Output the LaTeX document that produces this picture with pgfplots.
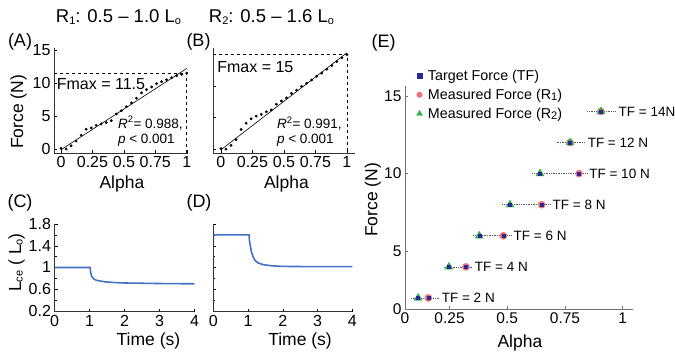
\documentclass[border=0pt]{standalone}
\usepackage{fontspec}
\setmainfont{Liberation Sans}
\usepackage{pgfplots}
\pgfplotsset{compat=1.18}
\definecolor{lineblue}{RGB}{68,114,196}
\definecolor{tfblue}{RGB}{40,40,150}
\definecolor{r1red}{RGB}{240,115,115}
\definecolor{r2green}{RGB}{45,180,70}
\newcommand{\fs}[1]{\fontsize{#1}{#1}\selectfont}
\newcommand{\sub}[1]{\raisebox{-1.5pt}{\fs{11}#1}}
\pgfplotsset{
  panel/.style={scale only axis, anchor=south west,
    axis x line*=bottom, axis y line*=left,
    tick align=inside, major tick length=3pt, minor tick length=2pt,
    tick style={black, thin}, axis line style={black!80, line width=0.8pt},
    ticklabel style={font=\fs{16}},
    /pgf/number format/assume math mode=true,
    label style={font=\fs{17.5}}, clip=false},
}
\begin{document}
\begin{tikzpicture}
\useasboundingbox (0,0) rectangle (675pt,358pt);
% titles and panel labels
\node[font=\fs{18.5}] at (118.5pt,341pt) {R\sub{1}: 0.5 – 1.0 L\sub{o}};
\node[font=\fs{18.5}] at (271.5pt,341pt) {R\sub{2}: 0.5 – 1.6 L\sub{o}};
\node[font=\fs{18}] at (20pt,316pt) {(A)};
\node[font=\fs{18}] at (198.5pt,316pt) {(B)};
\node[font=\fs{18}] at (20pt,155.5pt) {(C)};
\node[font=\fs{18}] at (199pt,155pt) {(D)};
\node[font=\fs{18}] at (383.5pt,315.5pt) {(E)};

% Panel A
\begin{axis}[panel, at={(54pt,205pt)}, width=134pt, height=105.3pt,
  xmin=-0.056, xmax=1.01, ymin=-0.6, ymax=15.35,
  xtick={0,0.25,0.5,0.75,1}, xticklabels={0,0.25,0.5,0.75,1},
  ytick={0,5,10,15},
  xlabel={Alpha}, ylabel={Force (N)},
  xlabel style={at={(axis description cs:0.507,-0.294)}, anchor=center},
  ylabel style={at={(axis description cs:-0.265,0.39)}, anchor=center}]
\addplot[black, dashed, line width=0.6pt] coordinates {(-0.056,11.5) (1,11.5) (1,-0.6)};
\addplot[black, line width=0.6pt] coordinates {(0,-0.1) (1,12.2)};
\addplot[only marks, mark=*, mark size=1.2pt, black] table {
x y
0 0.1
0.04 0.0
0.08 0.5
0.12 1.2
0.16 2.1
0.20 3.0
0.24 3.2
0.28 3.6
0.32 3.8
0.36 4.0
0.40 4.3
0.44 5.3
0.48 5.8
0.52 6.4
0.56 7.0
0.60 7.7
0.64 8.5
0.68 9.0
0.72 9.4
0.76 9.9
0.80 10.2
0.84 10.5
0.88 10.8
0.92 11.1
0.96 11.3
1.00 11.5
};
\node[anchor=west, font=\fs{16}, inner sep=0pt] at (axis cs:-0.035,9.9) {Fmax = 11.5};
\node[anchor=west, font=\fs{13.5}, inner sep=0pt] at (axis cs:0.452,3.94) {\textit{R}\textsuperscript{2}= 0.988,};
\node[anchor=west, font=\fs{13.5}, inner sep=0pt] at (axis cs:0.452,1.36) {\textit{p} < 0.001};
\end{axis}

% Panel B
\begin{axis}[panel, at={(213pt,205pt)}, width=141.5pt, height=105.3pt,
  xmin=-0.063, xmax=1.06, ymin=-0.6, ymax=16.0,
  xtick={0,0.25,0.5,0.75,1}, xticklabels={0,0.25,0.5,0.75,1},
  ytick={0,5,10,15}, yticklabels={},
  xlabel={Alpha},
  xlabel style={at={(axis description cs:0.519,-0.294)}, anchor=center}]
\addplot[black, dashed, line width=0.6pt] coordinates {(-0.063,15) (1,15) (1,-0.6)};
\addplot[black, line width=0.6pt] coordinates {(0,-0.1) (1,15.2)};
\addplot[only marks, mark=*, mark size=1.2pt, black] table {
x y
0 0.1
0.04 0.0
0.08 0.6
0.12 1.5
0.16 3.1
0.20 4.1
0.24 4.8
0.28 5.2
0.32 5.5
0.36 5.9
0.40 6.2
0.44 7.1
0.48 7.6
0.52 8.1
0.56 8.8
0.60 9.3
0.64 9.9
0.68 10.4
0.72 10.9
0.76 11.5
0.80 12.0
0.84 12.6
0.88 13.2
0.92 13.8
0.96 14.4
1.00 14.9
};
\node[anchor=west, font=\fs{16}, inner sep=0pt] at (axis cs:-0.03,13.0) {Fmax = 15};
\node[anchor=west, font=\fs{13.5}, inner sep=0pt] at (axis cs:0.444,4.06) {\textit{R}\textsuperscript{2}= 0.991,};
\node[anchor=west, font=\fs{13.5}, inner sep=0pt] at (axis cs:0.444,1.4) {\textit{p} < 0.001};
\end{axis}

% Panel C
\begin{axis}[panel, at={(54.5pt,46.3pt)}, width=140pt, height=87.7pt,
  xmin=0, xmax=4, ymin=0.187, ymax=1.8,
  xtick={0,1,2,3,4}, ytick={0.2,0.6,1,1.4,1.8}, yticklabels={0.2,0.6,1,1.4,1.8},
  minor ytick={0.4,0.8,1.2,1.6},
  xlabel={Time (s)}, ylabel={L\sub{ce} ( L\sub{o})},
  xlabel style={at={(axis description cs:0.671,-0.334)}, anchor=center},
  ylabel style={at={(axis description cs:-0.271,0.561)}, anchor=center}]
\addplot[lineblue, line width=1.6pt] coordinates {
(0,1.0) (1.02,1.0) (1.03,0.93) (1.05,0.86) (1.08,0.82) (1.12,0.79) (1.2,0.765)
(1.35,0.745) (1.5,0.733) (1.75,0.722) (2,0.715) (2.5,0.71) (3,0.705) (4,0.70)};
\end{axis}

% Panel D
\begin{axis}[panel, at={(213.3pt,46.3pt)}, width=139pt, height=87.7pt,
  xmin=0, xmax=4, ymin=0.187, ymax=1.8,
  xtick={0,1,2,3,4}, ytick={0.2,0.6,1,1.4,1.8}, yticklabels={},
  minor ytick={0.4,0.8,1.2,1.6},
  xlabel={Time (s)},
  xlabel style={at={(axis description cs:0.624,-0.334)}, anchor=center}]
\addplot[lineblue, line width=1.6pt] coordinates {
(0,1.6) (1.03,1.6) (1.04,1.5) (1.07,1.38) (1.1,1.28) (1.15,1.19) (1.2,1.13)
(1.3,1.08) (1.45,1.05) (1.7,1.03) (2,1.02) (3,1.015) (4,1.015)};
\end{axis}

% Panel E
\begin{axis}[panel, at={(405pt,49pt)}, width=227.6pt, height=223pt,
  xmin=0.057, xmax=1.043, ymin=1.29, ymax=15.64,
  axis line style={black!55, line width=0.8pt},
  tick style={black!55, thin},
  ticklabel style={font=\fs{15.5}},
  xtick={0.057,0.25,0.5,0.75,1}, xticklabels={0,0.25,0.5,0.75,1},
  ytick={1.29,5,10,15}, yticklabels={0,5,10,15},
  xlabel={Alpha}, ylabel={Force (N)},
  xlabel style={at={(axis description cs:0.505,-0.152)}, anchor=center},
  ylabel style={at={(axis description cs:-0.141,0.489)}, anchor=center},
  legend style={at={(axis description cs:0.05,1.085)}, anchor=north west,
    draw=none, fill=none, font=\fs{14.3}, row sep=2.2pt, inner sep=0pt,
    column sep=3pt, nodes={inner sep=2.5pt}},
  legend cell align=left]
\addlegendimage{only marks, mark=square*, mark size=2.2pt, tfblue}
\addlegendentry{Target Force (TF)}
\addlegendimage{only marks, mark=*, mark size=2.8pt, r1red}
\addlegendentry{Measured Force (R\sub{1})}
\addlegendimage{only marks, mark=triangle*, mark size=3.4pt, r2green}
\addlegendentry{Measured Force (R\sub{2})}
% dotted connectors
\addplot[black!65, densely dotted, line width=0.7pt, forget plot] coordinates {(0.083,2) (0.205,2)};
\addplot[black!65, densely dotted, line width=0.7pt, forget plot] coordinates {(0.227,4) (0.348,4)};
\addplot[black!65, densely dotted, line width=0.7pt, forget plot] coordinates {(0.353,6) (0.516,6)};
\addplot[black!65, densely dotted, line width=0.7pt, forget plot] coordinates {(0.478,8) (0.685,8)};
\addplot[black!65, densely dotted, line width=0.7pt, forget plot] coordinates {(0.608,10) (0.844,10)};
\addplot[black!65, densely dotted, line width=0.7pt, forget plot] coordinates {(0.714,12) (0.837,12)};
\addplot[black!65, densely dotted, line width=0.7pt, forget plot] coordinates {(0.847,14) (0.971,14)};
% measured R1
\addplot[only marks, mark=*, mark size=3.6pt, r1red, forget plot] coordinates {
(0.158,2) (0.321,4) (0.483,6) (0.649,8) (0.811,10) (0.772,12) (0.906,14)};
% measured R2
\addplot[only marks, mark=triangle*, mark size=4.6pt, r2green, forget plot] coordinates {
(0.114,2) (0.247,4) (0.379,6) (0.512,8) (0.642,10) (0.772,12) (0.906,14)};
% target force
\addplot[only marks, mark=square*, mark size=1.5pt, tfblue, forget plot] coordinates {
(0.114,2) (0.158,2) (0.247,4) (0.321,4) (0.379,6) (0.483,6) (0.512,8) (0.649,8)
(0.642,10) (0.811,10) (0.772,12) (0.906,14)};
\node[anchor=west, font=\fs{13.5}, inner sep=1pt, xshift=1.5pt] at (axis cs:0.205,2) {TF = 2 N};
\node[anchor=west, font=\fs{13.5}, inner sep=1pt, xshift=1.5pt] at (axis cs:0.348,4) {TF = 4 N};
\node[anchor=west, font=\fs{13.5}, inner sep=1pt, xshift=1.5pt] at (axis cs:0.516,6) {TF = 6 N};
\node[anchor=west, font=\fs{13.5}, inner sep=1pt, xshift=1.5pt] at (axis cs:0.685,8) {TF = 8 N};
\node[anchor=west, font=\fs{13.5}, inner sep=1pt, xshift=1.5pt] at (axis cs:0.844,10) {TF = 10 N};
\node[anchor=west, font=\fs{13.5}, inner sep=1pt, xshift=1.5pt] at (axis cs:0.837,12) {TF = 12 N};
\node[anchor=west, font=\fs{13.5}, inner sep=1pt, xshift=1.5pt] at (axis cs:0.971,14) {TF = 14N};
\end{axis}
\end{tikzpicture}
\end{document}
